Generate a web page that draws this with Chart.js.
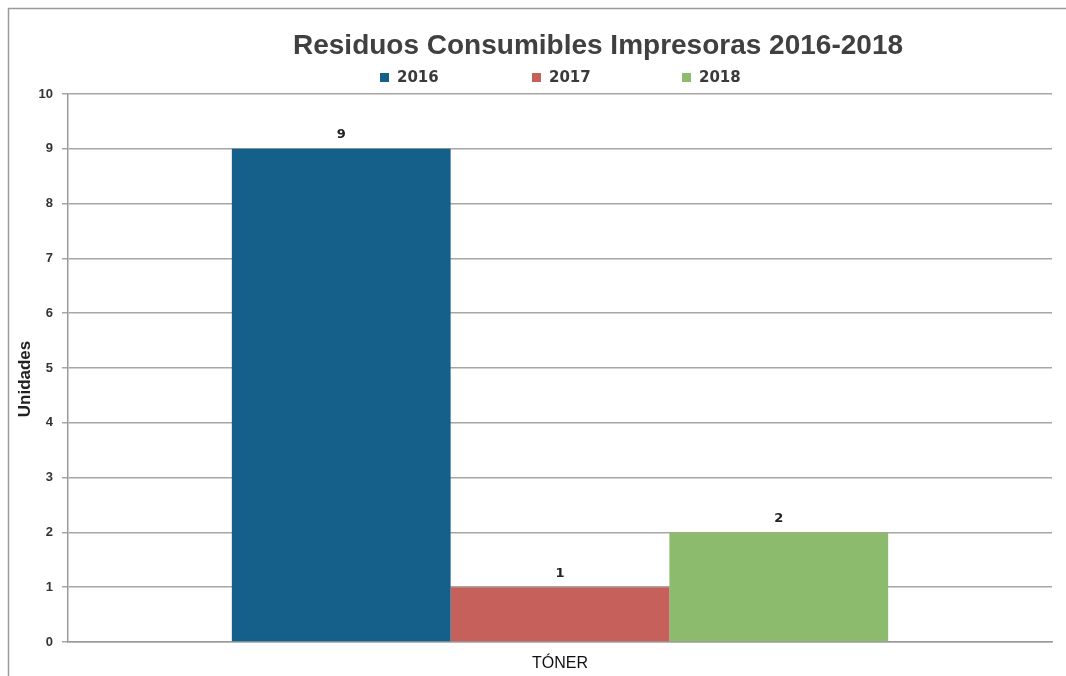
<!DOCTYPE html>
<html>
<head>
<meta charset="utf-8">
<script src="https://cdn.jsdelivr.net/npm/chart.js@4.4.1/dist/chart.umd.min.js"></script>
<style>
  html, body { margin: 0; padding: 0; background: #fff; }
  #wrap { width: 1066px; height: 676px; position: relative; }
</style>
</head>
<body>
<div id="wrap"><canvas id="residuos-chart"></canvas></div>
<script>
const categories = ['TÓNER'];
const years = ['2016', '2017', '2018'];
const values2016 = [9];
const values2017 = [1];
const values2018 = [2];
const yTicks = [0, 1, 2, 3, 4, 5, 6, 7, 8, 9, 10];

const colors = ['#155f8b', '#c5605a', '#8dbb6d'];
const legendX = [380, 532, 682];

// frame, title, legend, axis title and value labels drawn by hand
const extras = {
  id: 'extras',
  beforeDraw(chart) {
    const c = chart.ctx;
    c.save();
    c.fillStyle = '#fff';
    c.fillRect(0, 0, chart.width, chart.height);
    c.strokeStyle = '#9a9a9a';
    c.lineWidth = 1.5;
    c.beginPath();
    c.moveTo(8.5, chart.height);
    c.lineTo(8.5, 8.5);
    c.lineTo(chart.width, 8.5);
    c.stroke();
    c.fillStyle = '#404040';
    c.font = 'bold 28px "Liberation Sans", Arial, sans-serif';
    c.textAlign = 'center';
    c.textBaseline = 'middle';
    c.fillText('Residuos Consumibles Impresoras 2016-2018', 598, 46);
    c.font = 'bold 15px "DejaVu Sans", sans-serif';
    c.textAlign = 'left';
    chart.data.datasets.forEach((ds, i) => {
      c.fillStyle = ds.backgroundColor;
      c.fillRect(legendX[i], 73, 9, 9);
      c.fillStyle = '#3a3a3a';
      c.fillText(ds.label, legendX[i] + 17, 78);
    });
    // y axis title
    c.translate(25, 379);
    c.rotate(-Math.PI / 2);
    c.textAlign = 'center';
    c.fillStyle = '#222';
    c.font = 'bold 17px "Liberation Sans", Arial, sans-serif';
    c.fillText('Unidades', 0, 0);
    c.restore();
  },
  afterDatasetsDraw(chart) {
    const c = chart.ctx;
    c.save();
    c.fillStyle = '#222';
    c.font = 'bold 13px "DejaVu Sans", sans-serif';
    c.textAlign = 'center';
    c.textBaseline = 'middle';
    chart.data.datasets.forEach((ds, i) => {
      chart.getDatasetMeta(i).data.forEach((bar, j) => {
        c.fillText(String(ds.data[j]), bar.x, bar.y - 14);
      });
    });
    c.restore();
  }
};

const ctx = document.getElementById('residuos-chart').getContext('2d');
new Chart(ctx, {
  type: 'bar',
  data: {
    labels: categories,
    datasets: [
      { label: years[0], data: values2016, backgroundColor: colors[0] },
      { label: years[1], data: values2017, backgroundColor: colors[1] },
      { label: years[2], data: values2018, backgroundColor: colors[2] }
    ]
  },
  options: {
    responsive: true,
    maintainAspectRatio: false,
    animation: false,
    layout: { padding: { top: 94, left: 0, right: 14, bottom: 0 } },
    datasets: {
      bar: { barPercentage: 1, categoryPercentage: 0.667 }
    },
    scales: {
      x: {
        afterFit(axis) { axis.height = 34; },
        grid: { display: false },
        border: { color: '#9a9a9a', width: 1.5 },
        ticks: { color: '#111', font: { size: 16, family: '"Liberation Sans", Arial, sans-serif', lineHeight: 1 }, padding: 6 }
      },
      y: {
        min: 0,
        max: 10,
        afterFit(axis) { axis.width = 68; },
        afterBuildTicks(axis) {
          axis.ticks = yTicks.map(v => ({ value: v }));
        },
        grid: { color: '#a6a6a6', lineWidth: 1.5, tickLength: 6 },
        border: { color: '#9a9a9a', width: 1.5 },
        ticks: { color: '#333', font: { size: 13, weight: 'bold', family: '"Liberation Sans", Arial, sans-serif' }, padding: 9 }
      }
    },
    plugins: {
      title: { display: false },
      tooltip: { enabled: false },
      legend: { display: false }
    }
  },
  plugins: [extras]
});
</script>
</body>
</html>
